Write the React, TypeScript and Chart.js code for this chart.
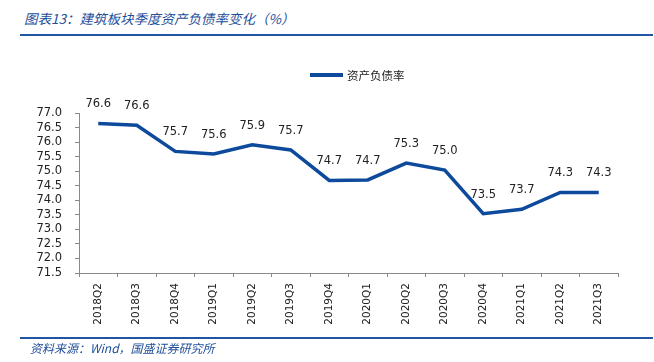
import React, { useEffect, useRef } from 'react';
import { Chart, registerables } from 'chart.js';

Chart.register(...registerables);

const categories = ['2018Q2', '2018Q3', '2018Q4', '2019Q1', '2019Q2', '2019Q3', '2019Q4', '2020Q1', '2020Q2', '2020Q3', '2020Q4', '2021Q1', '2021Q2', '2021Q3'];
const debtRatio = [76.64, 76.58, 75.68, 75.59, 75.91, 75.73, 74.68, 74.70, 75.28, 75.04, 73.54, 73.69, 74.27, 74.27];
const seriesName = '资产负债率';
const yMin = 71.5;
const yMax = 77.0;
const yStep = 0.5;

const titleText = '图表13：建筑板块季度资产负债率变化（%）';
const sourceText = '资料来源：Wind，国盛证券研究所';

const LINE_COLOR = '#0D4A9C';
const ACCENT = '#1F55A3';

const pointLabelPlugin = {
  id: 'pointLabels',
  afterDatasetsDraw(chart: any) {
    const ctx = chart.ctx;
    const meta = chart.getDatasetMeta(0);
    const data = chart.data.datasets[0].data as number[];
    ctx.save();
    ctx.font = '11.5px "DejaVu Sans"';
    ctx.fillStyle = '#222';
    ctx.textAlign = 'center';
    ctx.textBaseline = 'middle';
    meta.data.forEach((pt: any, i: number) => {
      ctx.fillText(data[i].toFixed(1), pt.x, pt.y - 19);
    });
    ctx.restore();
  },
};

export default function App() {
  const ref = useRef<HTMLCanvasElement>(null);

  useEffect(() => {
    if (!ref.current) return;
    const chart = new Chart(ref.current, {
      type: 'line',
      data: {
        labels: categories,
        datasets: [
          {
            label: seriesName,
            data: debtRatio,
            borderColor: LINE_COLOR,
            backgroundColor: LINE_COLOR,
            borderWidth: 3.5,
            pointRadius: 0,
            tension: 0,
            fill: false,
          },
        ],
      },
      options: {
        responsive: false,
        animation: false,
        layout: { padding: { left: 0, right: 36, top: 113, bottom: 0 } },
        plugins: {
          legend: { display: false },
          tooltip: { enabled: false },
        },
        scales: {
          x: {
            offset: true,
            grid: { offset: true, drawOnChartArea: false, drawTicks: true, tickLength: 4, color: '#8a8a8a' },
            border: { display: true, color: '#8a8a8a', width: 1 },
            ticks: {
              autoSkip: false,
              minRotation: 90,
              maxRotation: 90,
              padding: 6,
              color: '#222',
              font: { family: 'DejaVu Sans', size: 10.5 },
            },
            afterFit: (s: any) => { s.height = 89; },
          },
          y: {
            min: yMin,
            max: yMax,
            grid: { drawOnChartArea: false, drawTicks: true, tickLength: 4, color: '#8a8a8a' },
            border: { display: true, color: '#8a8a8a', width: 1 },
            ticks: {
              autoSkip: false,
              stepSize: yStep,
              padding: 13,
              color: '#222',
              font: { family: 'DejaVu Sans', size: 11.5 },
              callback: (v: any) => Number(v).toFixed(1),
            },
            afterFit: (s: any) => { s.width = 79; },
          },
        },
      },
      plugins: [pointLabelPlugin],
    });
    return () => chart.destroy();
  }, []);

  return (
    <div style={{ position: 'absolute', left: 0, top: 0, width: 654, height: 362, background: '#fff', overflow: 'hidden' }}>
      <div style={{ position: 'absolute', left: 24, top: 8, height: 20, lineHeight: '20px', fontFamily: '"Noto Sans CJK SC"', fontStyle: 'italic', fontSize: 13.5, color: '#1F4E9A', whiteSpace: 'nowrap' }}>
        {titleText}
      </div>
      <div style={{ position: 'absolute', left: 20, top: 34, width: 633, height: 2, background: ACCENT }} />
      <canvas ref={ref} width={654} height={362} style={{ position: 'absolute', left: 0, top: 0, width: 654, height: 362 }} />
      <div style={{ position: 'absolute', left: 310, top: 73, width: 33, height: 3.5, background: LINE_COLOR }} />
      <div style={{ position: 'absolute', left: 347, top: 66, height: 18, lineHeight: '18px', fontFamily: '"Noto Sans CJK SC"', fontSize: 11.5, color: '#222', whiteSpace: 'nowrap' }}>
        {seriesName}
      </div>
      <div style={{ position: 'absolute', left: 20, top: 337, width: 633, height: 2, background: ACCENT }} />
      <div style={{ position: 'absolute', left: 30, top: 339, height: 18, lineHeight: '18px', fontFamily: '"Noto Sans CJK SC"', fontStyle: 'italic', fontSize: 12, color: '#1F4E9A', whiteSpace: 'nowrap' }}>
        {sourceText}
      </div>
    </div>
  );
}
